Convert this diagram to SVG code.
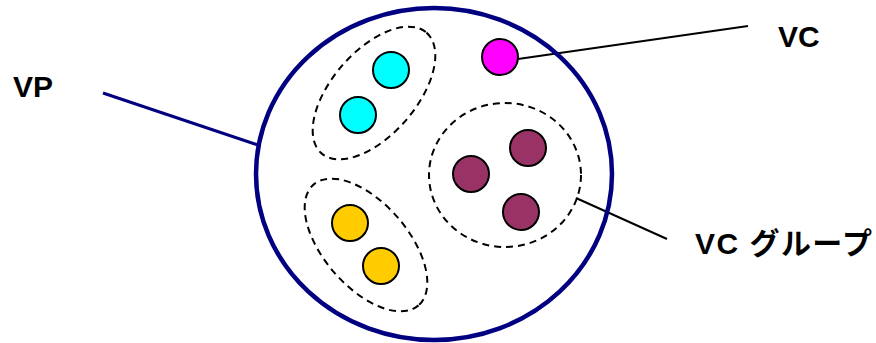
<svg xmlns="http://www.w3.org/2000/svg" width="876" height="343" viewBox="0 0 876 343">
<style>
.lbl{font-family:"Liberation Sans","Noto Sans CJK JP",Arial,sans-serif;font-weight:bold;font-size:30px;fill:#000}
.vc{stroke:#000;stroke-width:2}
.grp{fill:none;stroke:#000;stroke-width:2;stroke-dasharray:7,5}
.lead{stroke:#000;stroke-width:2;fill:none}
</style>
<rect width="876" height="343" fill="#fff"/>
<g id="connectors">
<line x1="103" y1="93" x2="258" y2="145" stroke="#000080" stroke-width="3"/>
<line class="lead" x1="518" y1="59" x2="748" y2="26"/>
<line class="lead" x1="576" y1="198" x2="667" y2="239"/>
</g>
<g id="vp">
<ellipse cx="434" cy="174" rx="178" ry="166" fill="none" stroke="#000080" stroke-width="4.5"/>
</g>
<g id="group-cyan">
<ellipse class="grp" cx="374" cy="93" rx="80" ry="42" transform="rotate(-49 374 93)"/>
<circle class="vc" cx="391" cy="70" r="18" fill="#00FFFF"/>
<circle class="vc" cx="358" cy="115" r="18" fill="#00FFFF"/>
</g>
<g id="vc-magenta">
<circle class="vc" cx="500" cy="57" r="18" fill="#FF00FF"/>
</g>
<g id="group-purple">
<ellipse class="grp" cx="505" cy="175" rx="76" ry="72"/>
<circle class="vc" cx="471" cy="174" r="18" fill="#993366"/>
<circle class="vc" cx="528" cy="148" r="18" fill="#993366"/>
<circle class="vc" cx="521" cy="212" r="18" fill="#993366"/>
</g>
<g id="group-yellow">
<ellipse class="grp" cx="366" cy="245" rx="80" ry="42" transform="rotate(49 366 245)"/>
<circle class="vc" cx="350" cy="223" r="18" fill="#FFCC00"/>
<circle class="vc" cx="381" cy="266" r="18" fill="#FFCC00"/>
</g>
<g id="labels">
<text class="lbl" x="13" y="97">VP</text>
<text class="lbl" x="778" y="47">VC</text>
<text class="lbl" x="695" y="254" textLength="177" lengthAdjust="spacing">VC グループ</text>
</g>
</svg>
